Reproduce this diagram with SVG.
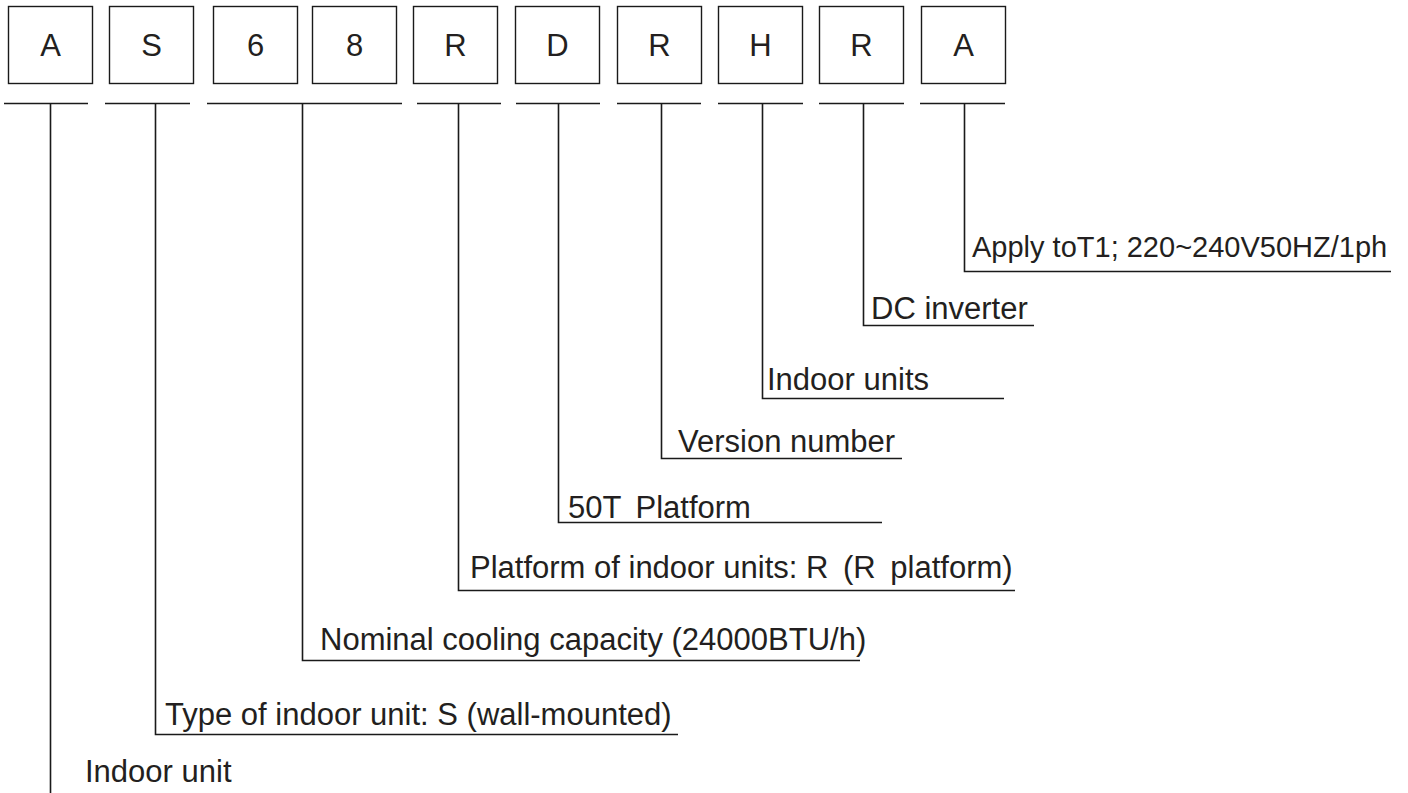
<svg xmlns="http://www.w3.org/2000/svg" width="1408" height="793" viewBox="0 0 1408 793">
<style>
.box{fill:#fff;stroke:#1a1a1a;stroke-width:1.4}
.ch{font-family:"Liberation Sans",Arial,sans-serif;font-size:31px;fill:#231f20;text-anchor:middle}
.lbl{font-family:"Liberation Sans",Arial,sans-serif;font-size:31px;fill:#231f20}
.ln{stroke:#1a1a1a;stroke-width:1.6;fill:none}
</style>
<rect width="1408" height="793" fill="#fff"/>
<g id="node-A1"><rect class="box" x="8.5" y="6.5" width="84" height="77"/><text class="ch" x="50.5" y="56">A</text></g>
<g id="node-S"><rect class="box" x="109.5" y="6.5" width="84" height="77"/><text class="ch" x="151.5" y="56">S</text></g>
<g id="node-6"><rect class="box" x="213.5" y="6.5" width="84" height="77"/><text class="ch" x="255.5" y="56">6</text></g>
<g id="node-8"><rect class="box" x="312.5" y="6.5" width="84" height="77"/><text class="ch" x="354.5" y="56">8</text></g>
<g id="node-R1"><rect class="box" x="413.5" y="6.5" width="84" height="77"/><text class="ch" x="455.5" y="56">R</text></g>
<g id="node-D"><rect class="box" x="515.5" y="6.5" width="84" height="77"/><text class="ch" x="557.5" y="56">D</text></g>
<g id="node-R2"><rect class="box" x="617.5" y="6.5" width="84" height="77"/><text class="ch" x="659.5" y="56">R</text></g>
<g id="node-H"><rect class="box" x="718.5" y="6.5" width="84" height="77"/><text class="ch" x="760.5" y="56">H</text></g>
<g id="node-R3"><rect class="box" x="819.5" y="6.5" width="84" height="77"/><text class="ch" x="861.5" y="56">R</text></g>
<g id="node-A2"><rect class="box" x="921.5" y="6.5" width="84" height="77"/><text class="ch" x="963.5" y="56">A</text></g>
<g id="connectors">
<path class="ln" d="M4 103.5H88M105 103.5H190M207 103.5H402M417 103.5H501M516 103.5H600M617 103.5H701M718 103.5H803M819 103.5H904M920 103.5H1005"/>
<path class="ln" d="M50.5 103.5V793"/>
<path class="ln" d="M155.5 103.5V734.5H678"/>
<path class="ln" d="M302.5 103.5V660.5H860"/>
<path class="ln" d="M458.5 103.5V590.5H1015"/>
<path class="ln" d="M558.5 103.5V522.5H882"/>
<path class="ln" d="M661.5 103.5V458.5H902"/>
<path class="ln" d="M762.5 103.5V398.5H1004"/>
<path class="ln" d="M863.5 103.5V325.5H1034"/>
<path class="ln" d="M964.5 103.5V271.5H1391"/>
</g>
<g id="labels">
<text class="lbl" x="972" y="257" style="font-size:29px">Apply toT1; 220~240V50HZ/1ph</text>
<text class="lbl" x="871" y="319">DC inverter</text>
<text class="lbl" x="767" y="390">Indoor units</text>
<text class="lbl" x="678" y="452">Version number</text>
<text class="lbl" x="568" y="518">50T <tspan dx="6">Platform</tspan></text>
<text class="lbl" x="470" y="578">Platform of indoor units: R <tspan dx="6">(R</tspan> <tspan dx="6">platform)</tspan></text>
<text class="lbl" x="320" y="650">Nominal cooling capacity (24000BTU/h)</text>
<text class="lbl" x="165" y="725">Type of indoor unit: S (wall-mounted)</text>
<text class="lbl" x="85" y="782">Indoor unit</text>
</g>
</svg>
